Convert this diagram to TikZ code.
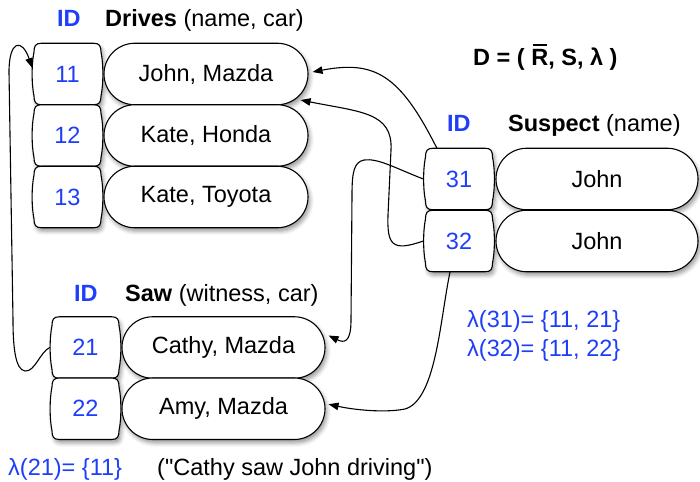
\documentclass[tikz,border=0pt]{standalone}
\usepackage{fontspec}
\setmainfont{Liberation Sans}
\usetikzlibrary{arrows.meta,shapes.misc,shadows.blur,calc}

\definecolor{idblue}{RGB}{30,62,250}

\tikzset{
  boxshadow/.style={blur shadow={shadow xshift=2pt,shadow yshift=-3.5pt,
      shadow blur radius=4pt,shadow opacity=40}},
  idnum/.style={shape=rectangle,minimum width=71pt,minimum height=61.5pt,
      inner sep=0pt,text=idblue},
  namebox/.style={shape=rounded rectangle,draw,fill=white,line width=1.1pt,
      minimum height=61.5pt,inner sep=0pt,boxshadow},
  label/.style={anchor=base west,inner sep=0pt},
  link/.style={line width=1.1pt,-{Triangle[length=10pt,width=7.5pt]}},
  pics/idcell/.style={code={
    \path[draw,fill=white,line width=1.1pt,boxshadow]
      (-26,-30.75) -- (26,-30.75)
      .. controls (32,-30.75) and (33.5,-28) .. (33.5,-22)
      .. controls (36,-10) and (36,10) .. (33.5,22)
      .. controls (33.5,28) and (32,30.75) .. (26,30.75)
      -- (-26,30.75)
      .. controls (-32,30.75) and (-33.5,28) .. (-33.5,22)
      .. controls (-36,10) and (-36,-10) .. (-33.5,-22)
      .. controls (-33.5,-28) and (-32,-30.75) .. (-26,-30.75) -- cycle;
  }}
}

\newcommand\barR{\makebox[0pt][l]{\hspace{1.5pt}\raisebox{20pt}{\rule{14pt}{2.2pt}}}R}

\begin{document}
\begin{tikzpicture}[x=1pt,y=-1pt,font=\fontsize{23.5}{28}\selectfont]
\useasboundingbox (0,0) rectangle (700,481);

% Drives (name, car)
\node[label,text=idblue,font=\fontsize{23.5}{28}\selectfont\bfseries] (hdid) at (57,26.5) {ID};
\node[label] (hdrel) at (105,26.5) {\textbf{Drives} (name, car)};
\foreach \id/\y/\txt in {11/74/{John, Mazda},12/135.5/{Kate, Honda},13/197/{Kate, Toyota}}{
  \pic at (67.5,\y) {idcell};
  \node[idnum] (d\id) at (67.5,\y) {\id};
  \node[namebox,minimum width=204pt] (n\id) at (206,\y) {\txt};
}

% Saw (witness, car)
\node[label,text=idblue,font=\fontsize{23.5}{28}\selectfont\bfseries] (hwid) at (74,301.5) {ID};
\node[label] (hwrel) at (125,301.5) {\textbf{Saw} (witness, car)};
\foreach \id/\y/\txt in {21/347.5/{Cathy, Mazda},22/408.75/{Amy, Mazda}}{
  \pic at (85.5,\y) {idcell};
  \node[idnum] (d\id) at (85.5,\y) {\id};
  \node[namebox,minimum width=203pt] (n\id) at (223.5,\y) {\txt};
}

% Suspect (name)
\node[label,text=idblue,font=\fontsize{23.5}{28}\selectfont\bfseries] (hsid) at (447,131.5) {ID};
\node[label] (hsrel) at (508,131.5) {\textbf{Suspect} (name)};
\foreach \id/\y in {31/179,32/241}{
  \pic at (459,\y) {idcell};
  \node[idnum] (d\id) at (459,\y) {\id};
  \node[namebox,minimum width=202pt] (n\id) at (597,\y) {John};
}

% the database triple
\node[label,font=\fontsize{23.5}{28}\selectfont\bfseries] (triple) at (473,66)
  {D = ( \barR, S, λ )};

% provenance annotations
\node[label,text=idblue] (lam31) at (467,327) {λ(31)= \{11, 21\}};
\node[label,text=idblue] (lam32) at (467,356) {λ(32)= \{11, 22\}};
\node[label,text=idblue] (lam21) at (8,475.5) {λ(21)= \{11\}};
\node[label] (gloss) at (157,475.5) {(\textquotedbl Cathy saw John driving\textquotedbl)};

% links from each tuple to the tuples it comes from
\draw[link] ([xshift=13.5pt]d31.north west)
  .. controls (400,75) and (375,60) .. ([xshift=4pt,yshift=2pt]n11.east);
\draw[link] (d32.west)
  .. controls (392,252) and (387,245) .. (388,215)
  -- (391,150) .. controls (393,112) and (360,112) .. ([xshift=-8pt,yshift=-26pt]n11.east);
\draw[link] (d31.west)
  .. controls (395,168) and (378,158) .. (364,160)
  .. controls (354,162) and (352,172) .. (352,195)
  -- (351,320) .. controls (351,343) and (344,343) .. ([xshift=3pt,yshift=12pt]n21.east);
\draw[link] ([xshift=-9pt]d32.south)
  .. controls (440,320) and (436,400) .. (405,409)
  .. controls (385,413) and (355,410) .. ([xshift=3pt,yshift=4.5pt]n22.east);
\draw[link] (d21.west)
  .. controls (40,352) and (35,372) .. (25,371)
  .. controls (15,370) and (13,345) .. (13,320)
  -- (9,72) .. controls (9,40) and (22,38) .. ([xshift=0.5pt,yshift=6pt]d11.west);
\end{tikzpicture}
\end{document}
